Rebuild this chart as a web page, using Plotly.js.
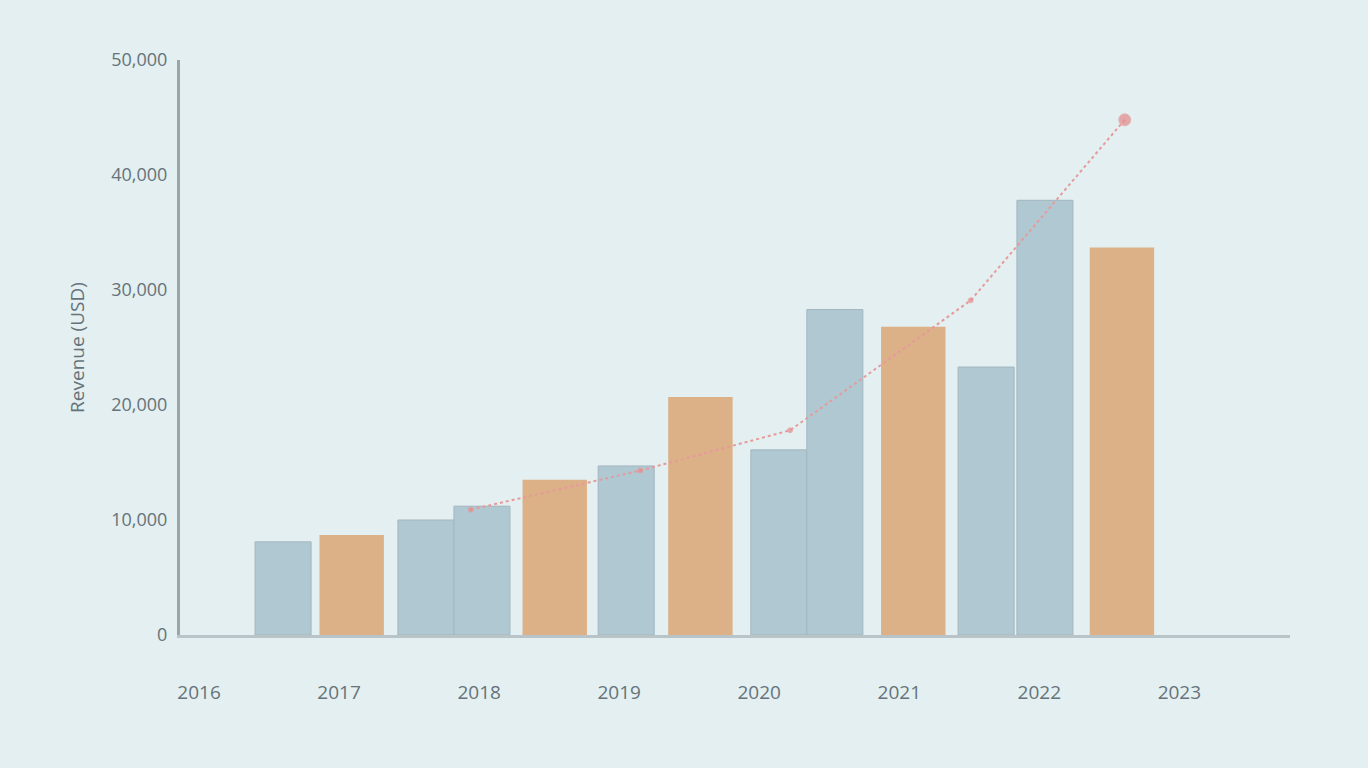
<!DOCTYPE html>
<html>
<head>
<meta charset="utf-8">
<script src="https://cdn.plot.ly/plotly-3.0.1.min.js"></script>
<style>
  html, body { margin: 0; padding: 0; background: #e3eff0; }
  #chart { width: 1368px; height: 768px; }
</style>
</head>
<body>
<div id="chart"></div>
<script>
// tick labels along the bottom
const periods = ["2016", "2017", "2018", "2019", "2020", "2021", "2022", "2023"];

// blue series: position on the period scale and value
const baseX = [0.6, 1.62, 2.02, 3.05, 4.14, 4.54, 5.62, 6.04];
const baseValues = [8100, 10000, 11200, 14700, 16100, 28300, 23300, 37800];

// orange series
const mainX = [1.09, 2.54, 3.58, 5.1, 6.59];
const mainValues = [8700, 13500, 20700, 26800, 33700];

// red trend line
const trendX = [1.94, 3.15, 4.22, 5.51, 6.61];
const trendValues = [10900, 14300, 17800, 29100, 44800];

const textColor = "#66737a";

const data = [
  {
    type: "bar",
    name: "Base",
    x: baseX,
    y: baseValues,
    width: 0.4,
    marker: { color: "#b0c8d2", line: { color: "#a3b6bf", width: 1 } },
  },
  {
    type: "bar",
    name: "Main",
    x: mainX,
    y: mainValues,
    width: 0.46,
    marker: { color: "#dcb187" },
  },
  {
    type: "scatter",
    mode: "lines+markers",
    name: "Trend",
    x: trendX,
    y: trendValues,
    line: { color: "#e79a9a", width: 2, dash: "dot" },
    marker: { color: "#e58a8a", size: [5, 5, 5, 5, 12] },
  },
];

const layout = {
  width: 1368,
  height: 768,
  paper_bgcolor: "#e3eff0",
  plot_bgcolor: "#e3eff0",
  showlegend: false,
  barmode: "overlay",
  margin: { l: 180, r: 78, t: 60, b: 133 },
  font: { family: "Open Sans, sans-serif", color: textColor, size: 16 },
  xaxis: {
    range: [-0.136, 7.79],
    tickvals: [0, 1, 2, 3, 4, 5, 6, 7],
    ticktext: periods,
    showgrid: false,
    zeroline: false,
    showline: true,
    linecolor: "#b9c4c8",
    linewidth: 3,
    ticks: "",
    ticklabelstandoff: 38,
    tickfont: { size: 19, color: textColor },
  },
  yaxis: {
    range: [0, 50000],
    dtick: 10000,
    tickformat: ",",
    showgrid: false,
    zeroline: false,
    showline: true,
    linecolor: "#9aa5aa",
    linewidth: 3,
    ticks: "",
    ticklabelstandoff: 6,
    tickfont: { size: 18, color: textColor },
    title: { text: "Revenue (USD)", font: { size: 19, color: textColor }, standoff: 22 },
  },
};

Plotly.newPlot("chart", data, layout, { staticPlot: true });
</script>
</body>
</html>
